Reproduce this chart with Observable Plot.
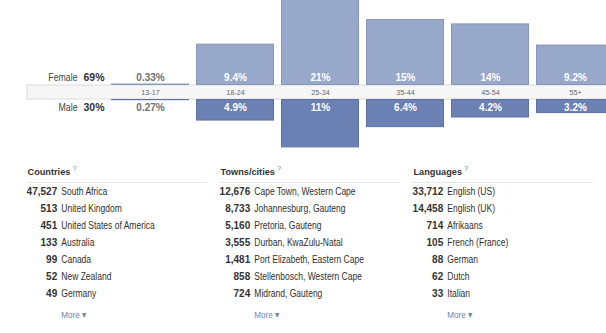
<!DOCTYPE html>
<html><head><meta charset="utf-8">
<script src="https://cdn.jsdelivr.net/npm/d3@7"></script>
<script src="https://cdn.jsdelivr.net/npm/@observablehq/plot@0.6"></script>
<style>
html,body{margin:0;padding:0;background:#fff;overflow:hidden;width:606px;height:333px}
#top svg,#bottom svg{display:block}
</style></head><body>
<div id="top"></div><div id="bottom"></div>
<script>
// ---- data ----
const ages = ["13-17", "18-24", "25-34", "35-44", "45-54", "55+"];
const femaleShare = [0.33, 9.4, 21, 15, 14, 9.2];
const maleShare = [0.27, 4.9, 11, 6.4, 4.2, 3.2];
const sexLabels = ["Female", "Male"];
const sexTotals = [69, 30];

const listTitles = ["Countries", "Towns/cities", "Languages"];
const helpMark = "?";
const countryNames = ["South Africa", "United Kingdom", "United States of America", "Australia", "Canada", "New Zealand", "Germany"];
const countryCounts = [47527, 513, 451, 133, 99, 52, 49];
const townNames = ["Cape Town, Western Cape", "Johannesburg, Gauteng", "Pretoria, Gauteng", "Durban, KwaZulu-Natal", "Port Elizabeth, Eastern Cape", "Stellenbosch, Western Cape", "Midrand, Gauteng"];
const townCounts = [12676, 8733, 5160, 3555, 1481, 858, 724];
const languageNames = ["English (US)", "English (UK)", "Afrikaans", "French (France)", "German", "Dutch", "Italian"];
const languageCounts = [33712, 14458, 714, 105, 88, 62, 33];
const moreLabel = "More ▾";

// ---- styling ----
const SANS = "'Liberation Sans', Arial, sans-serif";
const FEMALE = "#98a8cb", MALE = "#6b80b3";
const FEMALE_EDGE = "#8796bd", MALE_EDGE = "#5d71a5";
const LINK = "#6d84b4";
const CONDENSE = 0.85; // the original UI font is narrower than Liberation Sans
const HEADER_SIZE = 9.2;
const tag = name => () => name;

function condense(svg) {
  svg.querySelectorAll("text[aria-label='narrow']").forEach(t => {
    const w = t.getComputedTextLength();
    t.setAttribute("textLength", (w * CONDENSE).toFixed(2));
    t.setAttribute("lengthAdjust", "spacingAndGlyphs");
  });
}

// ---- top chart ----
const pxPerPct = 4.4, topH = 150, bandMid = 92;
const halfGap = 7 / pxPerPct;
const femaleRows = ages.map((age, i) => ({age, v: femaleShare[i]}));
const maleRows = ages.map((age, i) => ({age, v: maleShare[i]}));
const pct = v => v + "%";

const topPlot = Plot.plot({
  width: 606, height: topH,
  marginLeft: 27, marginRight: 0, marginTop: 0, marginBottom: 0,
  style: {fontFamily: SANS, fontSize: "10px", background: "white"},
  color: {type: "identity"},
  x: {type: "band", domain: ages, range: [107.5, 617.5], paddingInner: 0.08, paddingOuter: 0.04, axis: null},
  y: {domain: [-(topH - bandMid) / pxPerPct, bandMid / pxPerPct], range: [topH, 0], axis: null},
  marks: [
    Plot.rect([0], {y1: () => -halfGap, y2: () => halfGap, fill: "#f6f6f6", stroke: "#dcdcdc", insetRight: -3}),
    Plot.barY(femaleRows, {x: "age", y1: () => halfGap, y2: d => halfGap + d.v, fill: FEMALE, stroke: FEMALE_EDGE, strokeWidth: 1, inset: 0.5}),
    Plot.barY(maleRows, {x: "age", y1: () => -halfGap, y2: d => -halfGap - d.v, fill: MALE, stroke: MALE_EDGE, strokeWidth: 1, inset: 0.5}),
    Plot.text(femaleRows, {x: "age", y: () => halfGap, dy: -8, text: d => pct(d.v), fill: d => d.v > 2 ? "white" : "#707070", fontWeight: "bold", fontSize: 10}),
    Plot.text(maleRows, {x: "age", y: () => -halfGap, dy: 8, text: d => pct(d.v), fill: d => d.v > 2 ? "white" : "#707070", fontWeight: "bold", fontSize: 10}),
    Plot.text(ages, {x: d => d, y: () => 0, text: d => d, fill: "#666", fontSize: 7.2}),
    Plot.text([sexLabels[0]], {ariaLabel: tag("narrow"), frameAnchor: "left", y: () => halfGap, dy: -8, dx: 50, textAnchor: "end", text: d => d, fill: "#444", fontSize: 10.3}),
    Plot.text([sexTotals[0]], {frameAnchor: "left", y: () => halfGap, dy: -8, dx: 56, textAnchor: "start", text: d => pct(d), fill: "#333", fontWeight: "bold", fontSize: 10.5}),
    Plot.text([sexLabels[1]], {ariaLabel: tag("narrow"), frameAnchor: "left", y: () => -halfGap, dy: 8, dx: 50, textAnchor: "end", text: d => d, fill: "#444", fontSize: 10.3}),
    Plot.text([sexTotals[1]], {frameAnchor: "left", y: () => -halfGap, dy: 8, dx: 56, textAnchor: "start", text: d => pct(d), fill: "#333", fontWeight: "bold", fontSize: 10.5})
  ]
});
document.getElementById("top").appendChild(topPlot);
condense(topPlot);

// ---- bottom lists ----
const listH = 183, rowTop = 41.7, rowStep = 17;
const rowOf = px => (px - rowTop) / rowStep;
const groups = [[countryNames, countryCounts], [townNames, townCounts], [languageNames, languageCounts]];
const listRows = groups.flatMap(([names, counts], g) =>
  names.map((name, rank) => ({group: listTitles[g], rank, name, count: counts[rank]})));
const fmt = d3.format(",");

const ctx = document.createElement("canvas").getContext("2d");
ctx.font = `bold ${HEADER_SIZE}px ${SANS}`;
const titleWidth = t => ctx.measureText(t).width;

const bottomPlot = Plot.plot({
  width: 606, height: listH,
  marginLeft: 27, marginRight: 0, marginTop: 0, marginBottom: 0,
  style: {fontFamily: SANS, fontSize: "10px", background: "white"},
  fx: {domain: listTitles, paddingInner: 0, paddingOuter: 0, axis: null},
  y: {domain: [rowOf(0), rowOf(listH)], range: [0, listH], axis: null},
  marks: [
    Plot.text(listTitles, {fx: d => d, y: () => rowOf(22), frameAnchor: "left", textAnchor: "start", text: d => d, fontWeight: "bold", fontSize: HEADER_SIZE, fill: "#333"}),
    ...listTitles.map(t => Plot.text([t], {fx: d => d, y: () => rowOf(18), frameAnchor: "left", dx: titleWidth(t) + 2, textAnchor: "start", text: () => helpMark, fontSize: 7.5, fill: LINK})),
    Plot.ruleY(listTitles, {fx: d => d, y: () => rowOf(32), stroke: "#e6e6e6", insetRight: 13}),
    Plot.text(listRows, {fx: "group", y: "rank", frameAnchor: "left", dx: 29.7, textAnchor: "end", text: d => fmt(d.count), fontWeight: "bold", fontSize: 10, fill: "#333"}),
    Plot.text(listRows, {ariaLabel: tag("narrow"), fx: "group", y: "rank", frameAnchor: "left", dx: 33.8, textAnchor: "start", text: "name", fontSize: 10, fill: "#2f2f2f"}),
    Plot.text(listTitles, {ariaLabel: tag("narrow"), fx: d => d, y: () => rowOf(164), frameAnchor: "left", dx: 33.8, textAnchor: "start", text: () => moreLabel, fontSize: 9.5, fill: LINK})
  ]
});
document.getElementById("bottom").appendChild(bottomPlot);
condense(bottomPlot);
</script>
</body></html>
